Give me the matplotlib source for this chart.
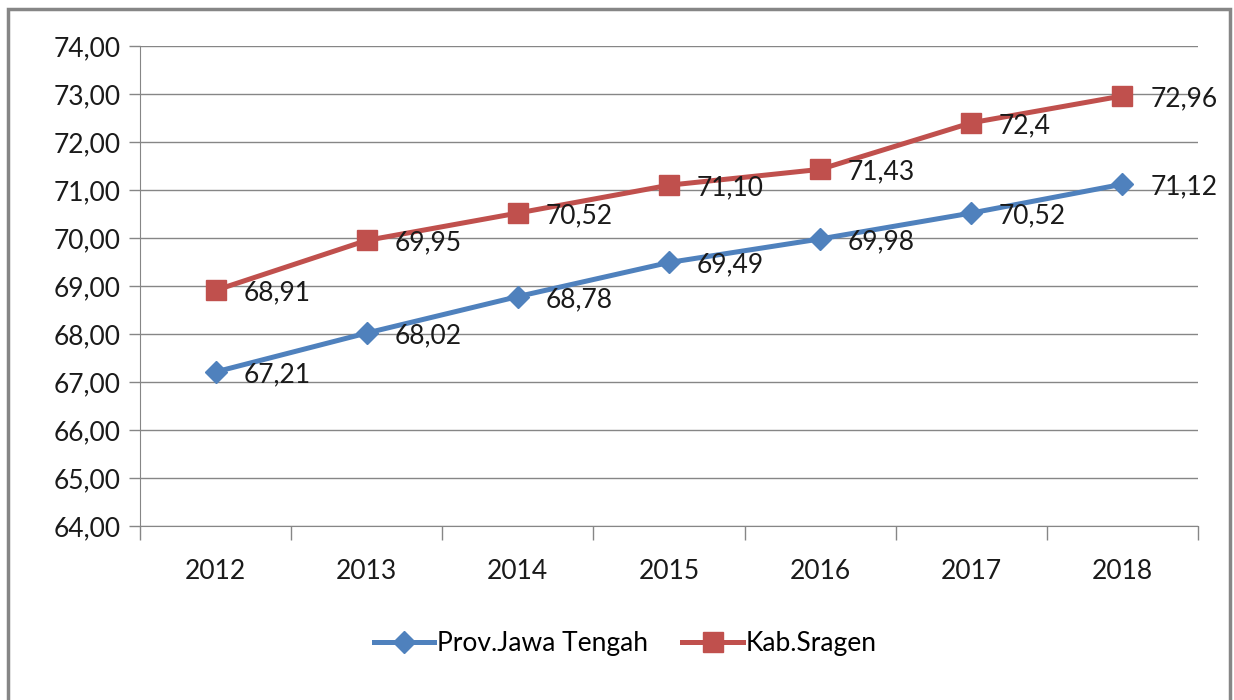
import matplotlib
matplotlib.use('Agg')
import matplotlib.pyplot as plt
from matplotlib.patches import Rectangle

years = ['2012', '2013', '2014', '2015', '2016', '2017', '2018']
jateng = [67.21, 68.02, 68.78, 69.49, 69.98, 70.52, 71.12]
sragen = [68.91, 69.95, 70.52, 71.10, 71.43, 72.40, 72.96]
jateng_labels = ['67,21', '68,02', '68,78', '69,49', '69,98', '70,52', '71,12']
sragen_labels = ['68,91', '69,95', '70,52', '71,10', '71,43', '72,4', '72,96']

plt.rcParams['font.family'] = ['Lato', 'DejaVu Sans']
grey = '#868686'
blue = '#4F81BD'
red = '#C0504D'

fig = plt.figure(figsize=(12.34, 7.0), dpi=100)
ax = fig.add_axes([140/1234, 1-526/700, (1198-140)/1234, (526-46)/700])

# outer frame of the chart
fig.patches.append(Rectangle((8/1234, -0.01), (1230-8)/1234, 1-9/700+0.01,
                             transform=fig.transFigure, fill=False,
                             edgecolor=grey, linewidth=2.5))

x = list(range(len(years)))
ax.plot(x, jateng, color=blue, lw=3.6, marker='D', ms=11, label='Prov.Jawa Tengah', zorder=3)
ax.plot(x, sragen, color=red, lw=3.6, marker='s', ms=14, label='Kab.Sragen', zorder=3)

for xi, v, s in zip(x, jateng, jateng_labels):
    ax.annotate(s, (xi, v), xytext=(20, -2), textcoords='offset points',
                va='center', ha='left', fontsize=19, color='#1a1a1a')
for xi, v, s in zip(x, sragen, sragen_labels):
    ax.annotate(s, (xi, v), xytext=(20, -2), textcoords='offset points',
                va='center', ha='left', fontsize=19, color='#1a1a1a')

ax.set_xlim(-0.5, 6.5)
ax.set_ylim(64, 74)
ax.set_yticks(range(64, 75))
ax.set_yticklabels(['%d,00' % v for v in range(64, 75)], fontsize=19, color='#1a1a1a')
ax.set_xticks([i - 0.5 for i in range(8)])
ax.set_xticklabels([])
ax.set_xticks(x, minor=True)
ax.set_xticklabels(years, minor=True, fontsize=19, color='#1a1a1a')
ax.tick_params(axis='x', which='major', length=10, width=1, color=grey)
ax.tick_params(axis='x', which='minor', length=0, pad=24)
ax.tick_params(axis='y', length=8, width=1, color=grey, pad=6)

ax.yaxis.grid(True, color=grey, lw=1, zorder=0)
for side in ['top', 'right']:
    ax.spines[side].set_visible(False)
ax.spines['left'].set_color(grey)
ax.spines['bottom'].set_color(grey)

fig.legend(loc='center', bbox_to_anchor=(625/1234, 1-644/700), ncol=2, frameon=False,
           fontsize=19, handlelength=2.3, columnspacing=1.3, handletextpad=0.1)

plt.savefig('out.png', dpi=100)
